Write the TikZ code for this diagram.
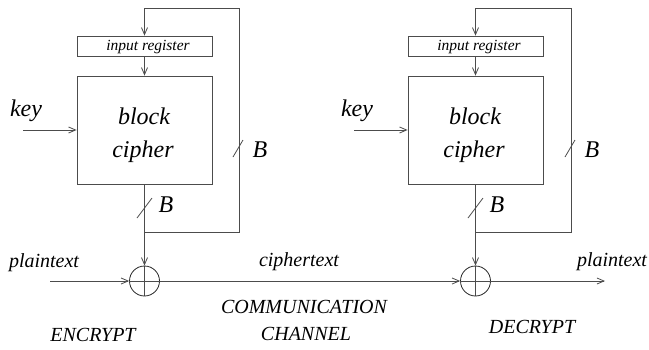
\documentclass[tikz,border=0pt]{standalone}
\usepackage{fontspec}
\setmainfont{Liberation Serif}[ItalicFont={Liberation Serif Italic}]
\usetikzlibrary{arrows.meta}
\begin{document}
\begin{tikzpicture}[x=1pt,y=-1pt,
  ln/.style={draw=black!70,line width=0.8pt},
  arr/.style={ln,-{Straight Barb[length=7pt,width=6pt,line width=0.8pt]}},
  boxreg/.style={ln,rectangle,minimum width=135pt,minimum height=20pt,inner sep=0pt},
  boxbc/.style={ln,rectangle,minimum width=135pt,minimum height=108pt,inner sep=0pt},
  xorc/.style={draw=black!85,line width=0.8pt,circle,minimum size=30pt,inner sep=0pt,
    path picture={\draw[black!70,line width=0.8pt] (path picture bounding box.north) -- (path picture bounding box.south);}},
  small/.style={font=\fontsize{15.5}{15.5}\selectfont\itshape,inner sep=0pt,anchor=base},
  big/.style={font=\fontsize{24}{24}\selectfont\itshape,inner sep=0pt,anchor=base},
  med/.style={font=\fontsize{20}{20}\selectfont\itshape,inner sep=0pt,anchor=base}]
\useasboundingbox (0,0) rectangle (649,349);

% ---------- left (encrypt) unit ----------
\node[boxreg] (reg1) at (144.5,46) {};
\node[small] (regt1) at (148,50) {input register};
\node[boxbc] (bc1) at (144.5,130) {};
\node[big] (blk1) at (144,124) {block};
\node[big] (cip1) at (143,157) {cipher};
\node[big] (key1) at (26,116) {key};
\coordinate (kin1) at (23,130);
\node[xorc] (x1) at (144.5,281) {};
\coordinate (fb1a) at (144.5,232);
\coordinate (fb1b) at (239,232);
\coordinate (fb1c) at (239,8);
\coordinate (fb1d) at (144.5,8);
\coordinate (s1a) at (233,157);
\coordinate (s1b) at (243,140);
\coordinate (s2a) at (137,218);
\coordinate (s2b) at (152,198);
\node[big] (B1) at (260,157) {B};
\node[big] (B2) at (166,212) {B};

\draw[arr] (kin1) -- (bc1.west);
\draw[arr] (reg1.south) -- (bc1.north);
\draw[ln] (fb1a) -- (fb1b) -- (fb1c) -- (fb1d);
\draw[arr] (fb1d) -- (reg1.north);
\draw[arr] (bc1.south) -- (x1.north);
\draw[ln] (s1a) -- (s1b);
\draw[ln] (s2a) -- (s2b);

% ---------- right (decrypt) unit ----------
\node[boxreg] (reg2) at (475.5,46) {};
\node[small] (regt2) at (479,50) {input register};
\node[boxbc] (bc2) at (475.5,130) {};
\node[big] (blk2) at (475,124) {block};
\node[big] (cip2) at (474,157) {cipher};
\node[big] (key2) at (357,116) {key};
\coordinate (kin2) at (354,130);
\node[xorc] (x2) at (475.5,281) {};
\coordinate (fb2a) at (475.5,232);
\coordinate (fb2b) at (571,232);
\coordinate (fb2c) at (571,8);
\coordinate (fb2d) at (475.5,8);
\coordinate (s3a) at (565,157);
\coordinate (s3b) at (575,140);
\coordinate (s4a) at (468,218);
\coordinate (s4b) at (483,198);
\node[big] (B3) at (592,157) {B};
\node[big] (B4) at (497,212) {B};

\draw[arr] (kin2) -- (bc2.west);
\draw[arr] (reg2.south) -- (bc2.north);
\draw[ln] (fb2a) -- (fb2b) -- (fb2c) -- (fb2d);
\draw[arr] (fb2d) -- (reg2.north);
\draw[arr] (bc2.south) -- (x2.north);
\draw[ln] (s3a) -- (s3b);
\draw[ln] (s4a) -- (s4b);

% ---------- channel ----------
\coordinate (pin) at (50,281);
\coordinate (pout) at (605,281);
\draw[arr] (pin) -- (x1.west);
\draw[ln] (x1.west) -- (x1.east);
\draw[arr] (x1.east) -- (x2.west);
\draw[ln] (x2.west) -- (x2.east);
\draw[arr] (x2.east) -- (pout);

\node[med] (pt1) at (44,267) {plaintext};
\node[med] (ct) at (299,266) {ciphertext};
\node[med] (pt2) at (612,266) {plaintext};
\node[med] (comm) at (304,313) {COMMUNICATION};
\node[med] (chan) at (306,340) {CHANNEL};
\node[med] (enc) at (93,341) {ENCRYPT};
\node[med] (dec) at (532,333) {DECRYPT};
\end{tikzpicture}
\end{document}
